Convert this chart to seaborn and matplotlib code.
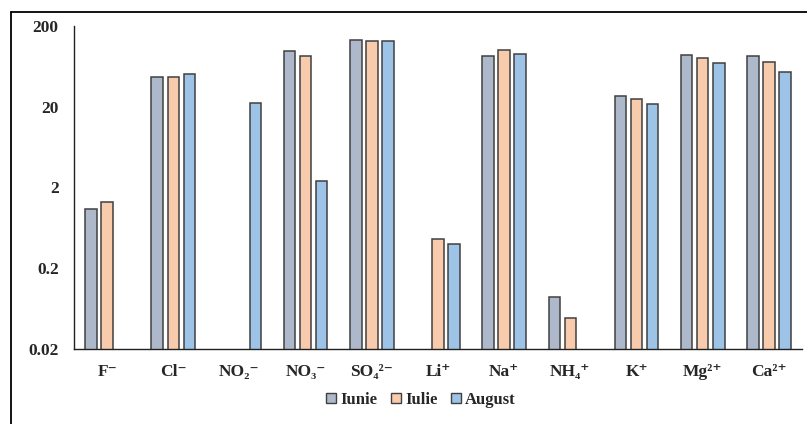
import numpy as np
import pandas as pd
import seaborn as sns
import matplotlib.pyplot as plt
from matplotlib.lines import Line2D
from matplotlib.patches import Patch

# Ion concentrations (log scale) for three sampling months
ions = ["F⁻", "Cl⁻", "NO₂⁻", "NO₃⁻", "SO₄²⁻", "Li⁺",
        "Na⁺", "NH₄⁺", "K⁺", "Mg²⁺", "Ca²⁺"]
months = ["Iunie", "Iulie", "August"]
iunie = [1.07, 46.7, np.nan, 97, 135, np.nan, 84, 0.089, 27.2, 88, 84]
iulie = [1.31, 46.7, np.nan, 84, 130, 0.46, 101, 0.049, 25.2, 81, 72]
august = [np.nan, 50.5, 22.5, 2.4, 130, 0.40, 91, np.nan, 21.8, 70, 54]
y_ticks = [0.02, 0.2, 2, 20, 200]
y_tick_labels = ["0.02", "0.2", "2", "20", "200"]
colors = ["#ADB9CA", "#F8CBAD", "#9DC3E6"]

df = pd.DataFrame({
    "ion": ions * 3,
    "month": [m for m in months for _ in ions],
    "value": iunie + iulie + august,
})

sns.set_style("white")
plt.rcParams["font.family"] = ["Liberation Serif", "DejaVu Serif"]

fig = plt.figure(figsize=(8.07, 4.24), dpi=100)
ax = fig.add_axes([74 / 807, 1 - 349 / 424, (802 - 74) / 807, (349 - 26) / 424])
ax.set_yscale("log")

sns.barplot(data=df, x="ion", y="value", hue="month", order=ions,
            hue_order=months, palette=colors, width=0.726, gap=0.28,
            edgecolor="#404040", linewidth=1.1, saturation=1,
            ax=ax, legend=False)

ax.set_ylim(0.02, 200)
ax.set_xlim(-0.5, len(ions) - 0.5)
ax.set_yticks(y_ticks)
ax.set_yticklabels(y_tick_labels)
ax.yaxis.set_minor_locator(plt.NullLocator())
ax.tick_params(axis="y", length=0, labelsize=12.5, pad=11)
ax.tick_params(axis="x", length=0, labelsize=12.5, pad=11)
for lab in ax.get_yticklabels() + ax.get_xticklabels():
    lab.set_fontweight("bold")
ax.set_xlabel("")
ax.set_ylabel("")
for side in ["top", "right"]:
    ax.spines[side].set_visible(False)
for side in ["left", "bottom"]:
    ax.spines[side].set_color("#202020")
    ax.spines[side].set_linewidth(1.0)

handles = [Patch(facecolor=c, edgecolor="#404040", linewidth=1.0, label=m)
           for c, m in zip(colors, months)]
fig.legend(handles=handles, loc="center", bbox_to_anchor=(421 / 807, 1 - 400 / 424),
           ncol=3, frameon=False, handlelength=0.6, handleheight=0.6,
           handletextpad=0.25, columnspacing=0.8,
           prop={"family": "Liberation Serif", "weight": "bold", "size": 12})

# outer chart frame (top and left edges)
fig.add_artist(Line2D([10.5 / 807, 1.0], [1 - 11.5 / 424] * 2,
                      transform=fig.transFigure, color="black", linewidth=1.3))
fig.add_artist(Line2D([10.5 / 807] * 2, [0.0, 1 - 11.5 / 424],
                      transform=fig.transFigure, color="black", linewidth=1.3))

fig.savefig("out.png", dpi=100)
